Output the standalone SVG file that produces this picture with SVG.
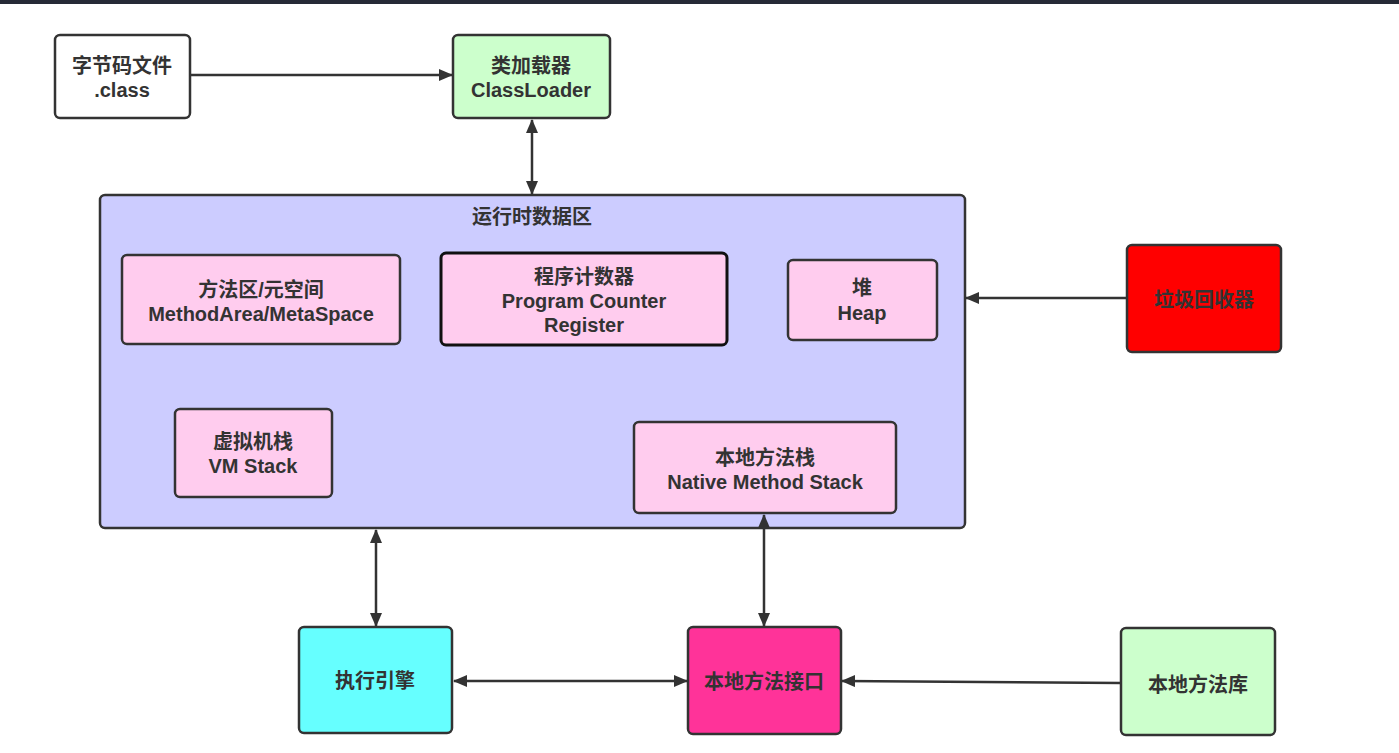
<svg xmlns="http://www.w3.org/2000/svg" width="1399" height="753" viewBox="0 0 1399 753">
<style>
.n{stroke:#333;stroke-width:2.5}
.t{font-family:"Liberation Sans","Noto Sans CJK SC",sans-serif;font-weight:bold;font-size:20px;fill:#333;text-anchor:middle}
.e{stroke:#333;stroke-width:2.5;fill:none}
</style>
<defs>
<marker id="ah" viewBox="0 0 14 12" refX="13" refY="6" markerWidth="14" markerHeight="12" markerUnits="userSpaceOnUse" orient="auto-start-reverse">
<path d="M0,0 L14,6 L0,12 Z" fill="#333"/>
</marker>
</defs>
<rect x="0" y="0" width="1399" height="753" fill="#fff"/>
<rect x="0" y="0" width="1399" height="4" fill="#262a36"/>
<g id="bytecode"><rect class="n" x="55" y="35" width="135" height="83" rx="5" fill="#fff"/>
<text class="t" x="122" y="73">字节码文件</text><text class="t" x="122" y="97">.class</text></g>
<g id="classloader"><rect class="n" x="453" y="35" width="157" height="83" rx="5" fill="#ccffcc"/>
<text class="t" x="531" y="73">类加载器</text><text class="t" x="531" y="97">ClassLoader</text></g>
<g id="runtime"><rect class="n" x="100" y="195" width="865" height="333" rx="5" fill="#ccccff"/>
<text class="t" x="532" y="224">运行时数据区</text></g>
<g id="methodarea"><rect class="n" x="122" y="255" width="278" height="89" rx="5" fill="#ffccee"/>
<text class="t" x="261" y="297">方法区/元空间</text><text class="t" x="261" y="321">MethodArea/MetaSpace</text></g>
<g id="pc"><rect x="441" y="253" width="286" height="92" rx="5" fill="#ffccee" stroke="#111" stroke-width="3"/>
<text class="t" x="584" y="284">程序计数器</text><text class="t" x="584" y="308">Program Counter</text><text class="t" x="584" y="332">Register</text></g>
<g id="heap"><rect class="n" x="788" y="260" width="149" height="80" rx="5" fill="#ffccee"/>
<text class="t" x="862" y="295">堆</text><text class="t" x="862" y="320">Heap</text></g>
<g id="gc"><rect class="n" x="1127" y="245" width="154" height="107" rx="5" fill="#ff0000"/>
<text class="t" x="1204" y="307">垃圾回收器</text></g>
<g id="vmstack"><rect class="n" x="175" y="409" width="157" height="88" rx="5" fill="#ffccee"/>
<text class="t" x="253" y="449">虚拟机栈</text><text class="t" x="253" y="473">VM Stack</text></g>
<g id="nativestack"><rect class="n" x="634" y="422" width="262" height="91" rx="5" fill="#ffccee"/>
<text class="t" x="765" y="465">本地方法栈</text><text class="t" x="765" y="489">Native Method Stack</text></g>
<g id="engine"><rect class="n" x="299" y="627" width="153" height="106" rx="5" fill="#66ffff"/>
<text class="t" x="375" y="688">执行引擎</text></g>
<g id="nativeif"><rect class="n" x="688" y="627" width="153" height="107" rx="5" fill="#ff3399"/>
<text class="t" x="764" y="689">本地方法接口</text></g>
<g id="nativelib"><rect class="n" x="1121" y="628" width="154" height="107" rx="5" fill="#ccffcc"/>
<text class="t" x="1198" y="692">本地方法库</text></g>
<g id="connectors">
<line class="e" x1="190" y1="75" x2="452" y2="75" marker-end="url(#ah)"/>
<line class="e" x1="532" y1="120" x2="532" y2="194" marker-start="url(#ah)" marker-end="url(#ah)"/>
<line class="e" x1="1127" y1="298" x2="966" y2="298" marker-end="url(#ah)"/>
<line class="e" x1="376" y1="530" x2="376" y2="626" marker-start="url(#ah)" marker-end="url(#ah)"/>
<line class="e" x1="764" y1="515" x2="764" y2="626" marker-start="url(#ah)" marker-end="url(#ah)"/>
<line class="e" x1="454" y1="681" x2="687" y2="681" marker-start="url(#ah)" marker-end="url(#ah)"/>
<line class="e" x1="1121" y1="683" x2="842" y2="681" marker-end="url(#ah)"/>
</g>
</svg>
